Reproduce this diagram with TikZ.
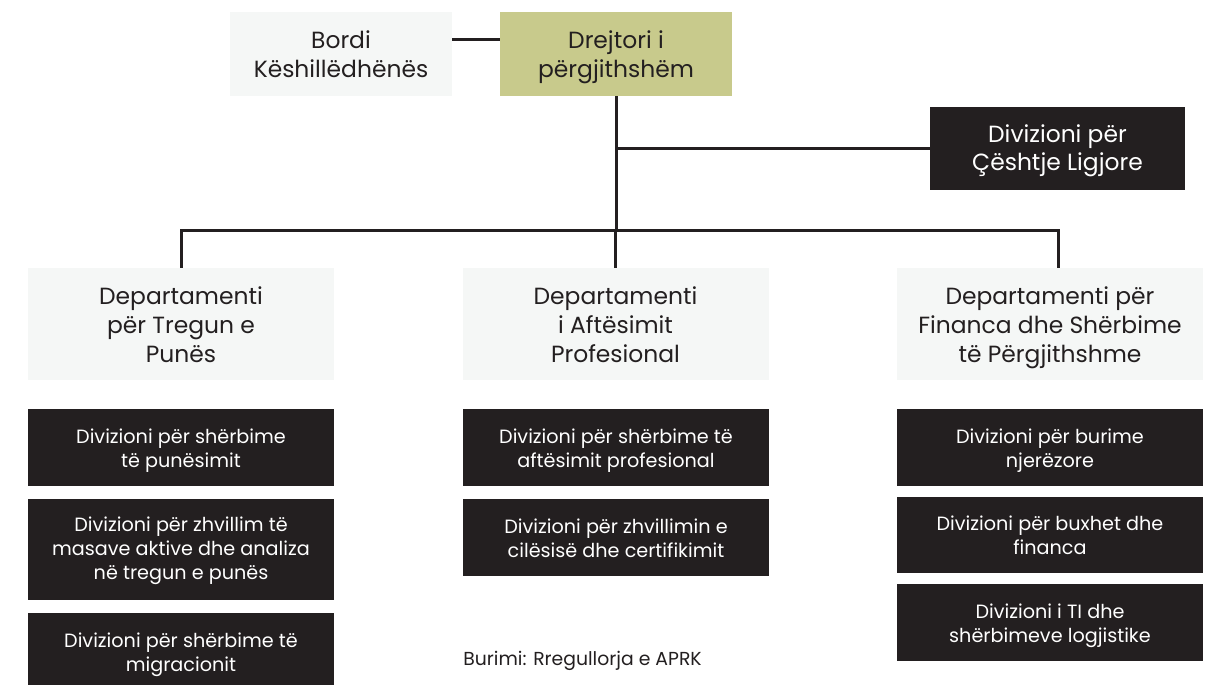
\documentclass[tikz,border=0pt]{standalone}
\usepackage{fontspec}
\setmainfont{Poppins}
\usetikzlibrary{positioning}
\definecolor{inkdark}{HTML}{231F20}
\definecolor{paleback}{HTML}{F5F7F6}
\definecolor{headfill}{HTML}{C8CA8C}

\begin{document}
\begin{tikzpicture}[
  x=0.5pt, y=-0.5pt,
  link/.style = {draw=inkdark, line width=1.5pt},
  pale/.style = {rectangle, fill=paleback, text=inkdark, inner sep=0pt, align=center,
                 text depth=0pt, text height=23pt,
                 font=\fontsize{11.7}{14.4}\selectfont},
  head/.style = {pale, fill=headfill},
  dept/.style = {pale, minimum width=153pt, minimum height=56pt, text height=38pt},
  division/.style = {rectangle, fill=inkdark, text=white, inner sep=0pt, align=center,
                     text depth=0pt, text height=19.5pt,
                     minimum width=153pt, minimum height=38.5pt, font=\fontsize{9.6}{12}\selectfont}
  ]
	\useasboundingbox (0,0) rectangle (1212,685);

	\coordinate (topline) at (0,39);
	\coordinate (bus) at (0,230);
	\coordinate (finstub) at (1058,0);

	% top level
	\node[pale, minimum width=111pt, minimum height=42pt] (board) at (341,54) {Bordi\\Këshillëdhënës};
	\node[head, minimum width=116pt, minimum height=42pt] (director) at (616,54) {Drejtori i\\përgjithshëm};
	\node[division, minimum width=127.5pt, minimum height=41.5pt, text height=22pt,
		font=\fontsize{11.7}{14.2}\selectfont] (legal) at (1057.5,148.5) {Divizioni për\\Çështje Ligjore};

	% departments
	\node[dept] (dlabor) at (181,324) {Departamenti\\për Tregun e\\Punës};
	\node[dept] (dvet) at (615.5,324) {Departamenti\\i Aftësimit\\Profesional};
	\node[dept] (dfin) at (1050,324) {Departamenti për\\Financa dhe Shërbime\\të Përgjithshme};

	% divisions
	\node[division] (lab1) at (181,447.5) {Divizioni për shërbime\\të punësimit};
	\node[division, minimum height=50.5pt, text height=29.5pt] (lab2) at (181,549.5) {Divizioni për zhvillim të\\masave aktive dhe analiza\\në tregun e punës};
	\node[division] (lab3) at (181,651.5) {Divizioni për shërbime të\\migracionit};

	\node[division] (vet1) at (616,447.5) {Divizioni për shërbime të\\aftësimit profesional};
	\node[division] (vet2) at (616,537.5) {Divizioni për zhvillimin e\\cilësisë dhe certifikimit};

	\node[division] (fin1) at (1050,447.5) {Divizioni për burime\\njerëzore};
	\node[division, minimum height=38pt] (fin2) at (1050,535) {Divizioni për buxhet dhe\\financa};
	\node[division] (fin3) at (1050,622.5) {Divizioni i TI dhe\\shërbimeve logjistike};

	\node[anchor=base west, inner sep=0pt, text=inkdark, font=\fontsize{9.4}{11}\selectfont] (source) at (463,665) {Burimi: Rregullorja e APRK};

	% connectors
	\draw[link] (board.east |- topline) -- (director.west |- topline);
	\draw[link] (director.south) -- (director |- bus);
	\draw[link] (legal.west -| director) -- (legal.west);
	\draw[link] (dlabor.north) -- (dlabor |- bus) -- (finstub |- bus) -- (finstub |- dfin.north);
	\draw[link] (dvet |- bus) -- (dvet.north);
\end{tikzpicture}
\end{document}
